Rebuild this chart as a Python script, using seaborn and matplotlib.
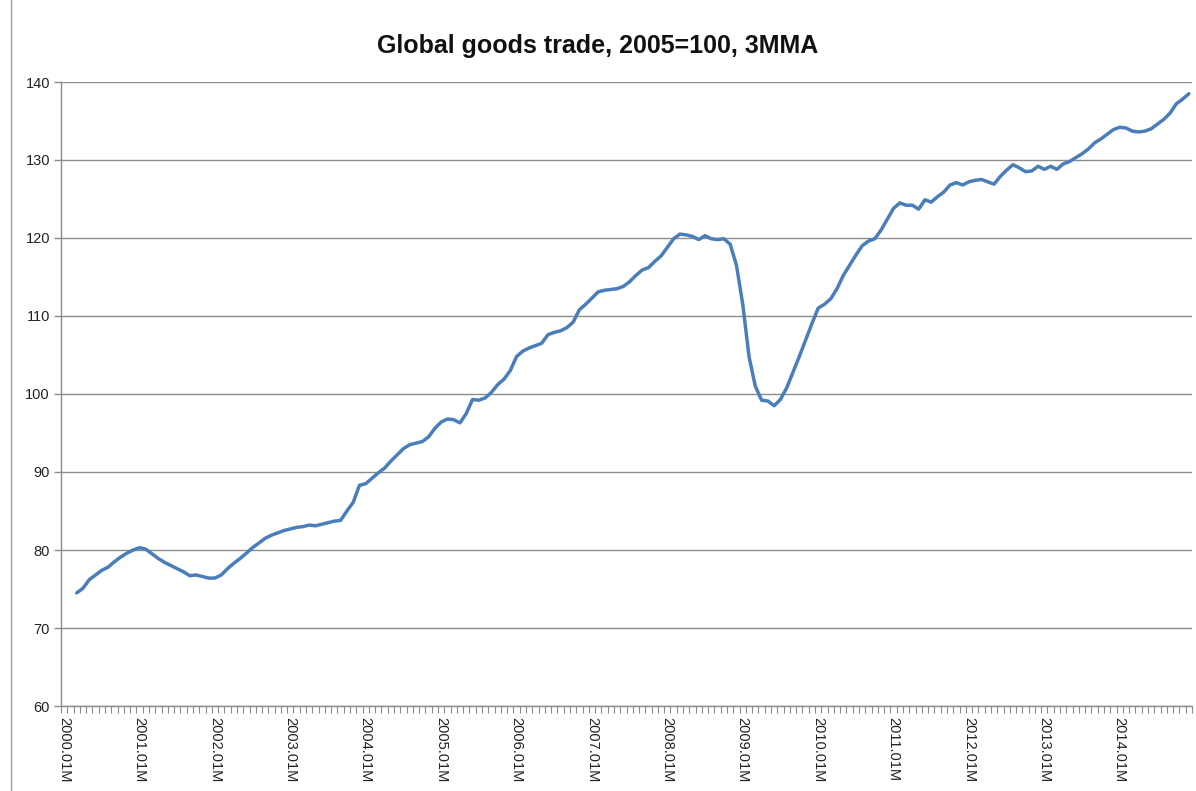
import matplotlib
matplotlib.use("Agg")
import matplotlib.pyplot as plt
from matplotlib.lines import Line2D
import numpy as np
import pandas as pd
import seaborn as sns

# ---- data (3-month moving average, index 2005=100), series starts 2000.03 ----
years = list(range(2000, 2015))
v2000 = [74.5, 75.1, 76.2, 76.8, 77.4, 77.8, 78.5, 79.1, 79.6, 80.0]  # Mar-Dec
v2001 = [80.3, 80.1, 79.5, 78.9, 78.4, 78.0, 77.6, 77.2, 76.7, 76.8, 76.6, 76.4]
v2002 = [76.4, 76.8, 77.6, 78.3, 78.9, 79.6, 80.3, 80.9, 81.5, 81.9, 82.2, 82.5]
v2003 = [82.7, 82.9, 83.0, 83.2, 83.1, 83.3, 83.5, 83.7, 83.8, 85.0, 86.1, 88.3]
v2004 = [88.5, 89.2, 89.9, 90.5, 91.4, 92.2, 93.0, 93.5, 93.7, 93.9, 94.5, 95.6]
v2005 = [96.4, 96.8, 96.7, 96.3, 97.5, 99.3, 99.2, 99.5, 100.2, 101.2, 101.9, 103.0]
v2006 = [104.8, 105.5, 105.9, 106.2, 106.5, 107.6, 107.9, 108.1, 108.5, 109.2, 110.8, 111.5]
v2007 = [112.3, 113.1, 113.3, 113.4, 113.5, 113.8, 114.4, 115.2, 115.9, 116.2, 117.0, 117.7]
v2008 = [118.8, 119.9, 120.5, 120.4, 120.2, 119.8, 120.3, 119.9, 119.8, 119.9, 119.2, 116.5]
v2009 = [111.5, 104.8, 101.0, 99.2, 99.1, 98.5, 99.3, 100.8, 102.8, 104.8, 106.9, 109.0]
v2010 = [111.0, 111.5, 112.2, 113.5, 115.2, 116.5, 117.8, 119.0, 119.6, 119.9, 121.0, 122.4]
v2011 = [123.8, 124.5, 124.2, 124.2, 123.7, 124.9, 124.6, 125.3, 125.9, 126.8, 127.1, 126.8]
v2012 = [127.2, 127.4, 127.5, 127.2, 126.9, 127.9, 128.7, 129.4, 129.0, 128.5, 128.6, 129.2]
v2013 = [128.8, 129.2, 128.8, 129.5, 129.8, 130.3, 130.8, 131.4, 132.2, 132.7, 133.3, 133.9]
v2014 = [134.2, 134.1, 133.7, 133.6, 133.7, 134.0, 134.6, 135.2, 136.0, 137.2, 137.8, 138.5]

tick_labels = ["2000.01M", "2001.01M", "2002.01M", "2003.01M", "2004.01M",
               "2005.01M", "2006.01M", "2007.01M", "2008.01M", "2009.01M",
               "2010.01M", "2011.01M", "2012.01M", "2013.01M", "2014.01M"]
y_ticks = [60, 70, 80, 90, 100, 110, 120, 130, 140]
title = "Global goods trade, 2005=100, 3MMA"

# ---- assemble ----
months = [f"{y}.{m:02d}M" for y in years for m in range(1, 13)]
values = (v2000 + v2001 + v2002 + v2003 + v2004 + v2005 + v2006 + v2007 +
          v2008 + v2009 + v2010 + v2011 + v2012 + v2013 + v2014)
start = len(months) - len(values)
df = pd.DataFrame({"month": months[start:], "value": values})
df["pos"] = [months.index(m) for m in df["month"]]

sns.set_theme(style="white")
plt.rcParams["font.family"] = ["Liberation Sans", "DejaVu Sans"]

fig = plt.figure(figsize=(11.96, 7.91), dpi=100)
ax = fig.add_axes([61 / 1196, 1 - 706 / 791, (1192 - 61) / 1196, (706 - 82) / 791])

grid_c = "#8C8C8C"
ax.yaxis.grid(True, color=grid_c, lw=1.0)
ax.set_axisbelow(True)

sns.lineplot(data=df, x="pos", y="value", ax=ax, color="#4A7EBB", lw=2.5)

ax.set_xlim(-0.5, len(months) - 0.5)
ax.set_ylim(60, 140)
ax.set_yticks(y_ticks)
ax.set_yticklabels([str(v) for v in y_ticks], fontsize=10.5, color="#222222")

jan_pos = [months.index(l) for l in tick_labels]
ax.set_xticks(jan_pos)
ax.set_xticklabels(tick_labels, rotation=270, ha="center", va="top",
                   fontsize=10.5, color="#222222")
ax.set_xticks(np.arange(-0.5, len(months), 1.0), minor=True)
ax.tick_params(axis="x", which="major", length=0, pad=8)
ax.tick_params(axis="x", which="minor", length=5, width=0.8, color=grid_c,
               bottom=True, direction="out")
ax.tick_params(axis="y", which="major", length=5, width=1.0, color=grid_c,
               left=True, direction="out", pad=3)

for s in ["top", "right"]:
    ax.spines[s].set_visible(False)
for s in ["left", "bottom"]:
    ax.spines[s].set_color(grid_c)
    ax.spines[s].set_linewidth(1.0)

ax.set_xlabel("")
ax.set_ylabel("")

fig.text(0.5, 1 - 46 / 791, title, ha="center", va="center",
         fontsize=18, fontweight="bold", color="#111111")

fig.add_artist(Line2D([11 / 1196, 11 / 1196], [0, 1], color="#9E9E9E", lw=1.0,
                      transform=fig.transFigure))

fig.savefig("out.png", dpi=100, facecolor="white")
